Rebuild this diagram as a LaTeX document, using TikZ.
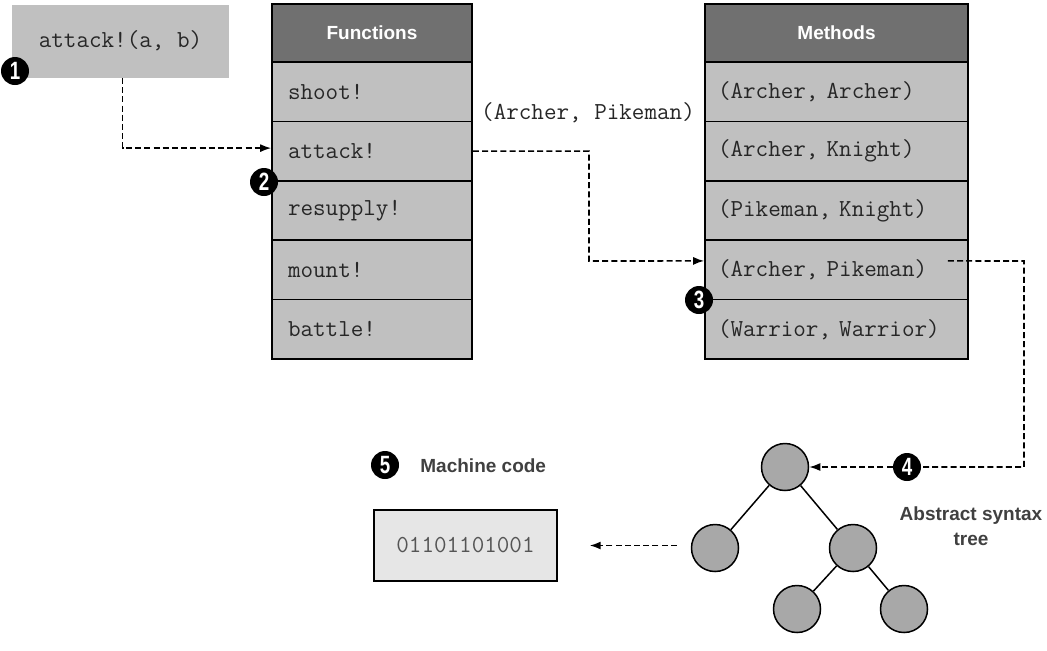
\documentclass[tikz,border=0pt]{standalone}
\usepackage{fontspec}
\setmainfont{Liberation Serif}
\setsansfont{Liberation Sans}
\usetikzlibrary{arrows.meta,calc}
\definecolor{rowgray}{HTML}{C0C0C0}
\definecolor{hdrgray}{HTML}{707070}
\definecolor{treegray}{HTML}{A8A8A8}
\definecolor{boxlight}{HTML}{E6E6E6}
\definecolor{labgray}{HTML}{404040}
\definecolor{codegray}{HTML}{555555}
\begin{document}
\begin{tikzpicture}[x=0.5pt,y=-0.5pt,
  mono/.style={font=\fontsize{12.2}{13}\selectfont\ttfamily},
  hdr/.style={draw=black, line width=0.8pt, fill=hdrgray, minimum height=29pt,
    inner sep=0pt, text=white, font=\sffamily\bfseries\fontsize{9.5}{11}\selectfont},
  cell/.style={mono, draw=black, line width=0.8pt, fill=rowgray, minimum height=29.7pt,
    inner ysep=0pt, align=left, text=black!85},
  fcell/.style={cell, text width=84pt, inner xsep=8pt},
  mcell/.style={cell, text width=118.5pt, inner xsep=6.5pt},
  bullet/.style={circle, fill=black, minimum size=14pt, inner sep=0pt, text=white,
    font=\sffamily\bfseries\fontsize{12.5}{12}\selectfont},
  tnode/.style={circle, draw=black, line width=0.75pt, fill=treegray, minimum size=23.5pt, inner sep=0pt},
  lab/.style={text=labgray, font=\sffamily\bfseries\fontsize{9.5}{12.5}\selectfont},
  arr/.style={line width=0.8pt, dash pattern=on 3pt off 1.6pt, -{Latex[length=5.5pt,width=4pt]}},
  dline/.style={line width=0.8pt, dash pattern=on 3pt off 1.6pt},
  edge/.style={line width=0.75pt}
]
\useasboundingbox (0,0) rectangle (1047,650);

% call box
\node[mono, fill=rowgray, minimum width=108.5pt, minimum height=36.5pt, inner sep=0pt, text=black!85] (call) at (120.5,41) {attack!(a, b)};
\node[bullet] (b1) at (15,71) {\scalebox{0.75}[1]{1}};

% Functions table
\node[hdr, minimum width=100pt] (fh) at (372,33) {Functions};
\node[fcell] (f1) at (372,91.7) {shoot!};
\node[fcell] (f2) at (372,151.1) {attack!};
\node[fcell] (f3) at (372,210.5) {resupply!};
\node[fcell] (f4) at (372,269.9) {mount!};
\node[fcell] (f5) at (372,329.3) {battle!};
\node[bullet] (b2) at (264,182) {\scalebox{0.75}[1]{2}};

% Methods table
\node[hdr, minimum width=131.5pt] (mh) at (836.5,33) {Methods};
\node[mcell] (m1) at (836.5,91.7) {(Archer, Archer)};
\node[mcell] (m2) at (836.5,151.1) {(Archer, Knight)};
\node[mcell] (m3) at (836.5,210.5) {(Pikeman, Knight)};
\node[mcell] (m4) at (836.5,269.9) {(Archer, Pikeman)};
\node[mcell] (m5) at (836.5,329.3) {(Warrior, Warrior)};
\node[bullet] (b3) at (699,300) {\scalebox{0.75}[1]{3}};

\node[mono, text=black!85, inner sep=0pt] (sig) at (588,113) {(Archer, Pikeman)};

% tree
\node[tnode] (root) at (785,467) {};
\node[tnode] (lc) at (715,548) {};
\node[tnode] (rc) at (853,548) {};
\node[tnode] (ll) at (797,609) {};
\node[tnode] (rr) at (904,609) {};
\draw[edge] (root) -- (lc);
\draw[edge] (root) -- (rc);
\draw[edge] (rc) -- (ll);
\draw[edge] (rc) -- (rr);
\node[lab, align=center] (ast) at (971,526) {Abstract syntax\\tree};

% machine code
\node[bullet] (b5) at (385,465) {\scalebox{0.75}[1]{5}};
\node[lab, anchor=west, inner sep=0pt] (mclab) at (420,466) {Machine code};
\node[draw=black, line width=0.7pt, fill=boxlight, minimum width=91.5pt, minimum height=35.5pt,
  inner sep=0pt, mono, text=codegray] (mc) at (465.5,545.5) {01101101001};

% connectors
\draw[arr] (call.south) ++(1pt,0) |- ([yshift=1.5pt]f2.west);
\draw[arr] (f2.east) -| (589,261) -- ([yshift=4.5pt]m4.west);
\node[bullet] (b4) at (907,467) {\scalebox{0.75}[1]{4}};
\coordinate (s3) at ([xshift=-10.5pt,yshift=4.5pt]m4.east);
\coordinate (c3) at (1024,261);
\draw[dline] (s3) -- (c3) -- (c3 |- b4) -- (b4);
\draw[arr] (b4) -- (root.east);
\coordinate (a5s) at ([xshift=-7pt]lc.west);
\draw[arr] (a5s |- mc.east) -- ([xshift=16pt]mc.east);
\end{tikzpicture}
\end{document}
